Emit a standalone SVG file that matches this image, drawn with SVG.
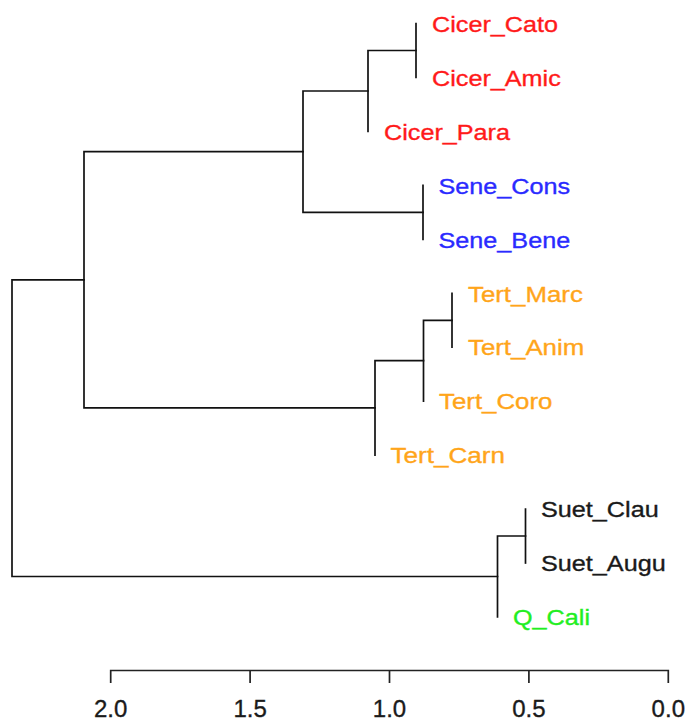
<svg xmlns="http://www.w3.org/2000/svg" width="689" height="722" viewBox="0 0 689 722">
<style>
  .bg { fill: #ffffff; }
  .br { fill: none; stroke: #111111; stroke-width: 1.7; stroke-linecap: square; }
  .ax { fill: none; stroke: #222222; stroke-width: 1.7; }
  text { font-family: "Liberation Sans", Arial, sans-serif; font-size: 22.5px; stroke-width: 0.35px; }
  .red { fill: #ff1a1a; stroke: #ff1a1a; }
  .blue { fill: #2a2aff; stroke: #2a2aff; }
  .orange { fill: #ffa51a; stroke: #ffa51a; }
  .black { fill: #1a1a1a; stroke: #1a1a1a; }
  .green { fill: #22ee22; stroke: #22ee22; }
  .tick { fill: #1a1a1a; stroke: #1a1a1a; text-anchor: middle; font-size: 24px; }
</style>
<rect class="bg" x="0" y="0" width="689" height="722"/>
<g id="connectors">
  <path class="br" d="M416,23.5 V77.5"/>
  <path class="br" d="M416,50.5 H368 M368,50.5 V131.4"/>
  <path class="br" d="M423,185.4 V239.3"/>
  <path class="br" d="M368,91 H303 M423,212.4 H303 M303,91 V212.4"/>
  <path class="br" d="M452,293.3 V347.2"/>
  <path class="br" d="M452,320.3 H423.5 M423.5,320.3 V401.2"/>
  <path class="br" d="M423.5,360.7 H375 M375,360.7 V455.1"/>
  <path class="br" d="M303,151.7 H84 M375,407.9 H84 M84,151.7 V407.9"/>
  <path class="br" d="M525.5,509.1 V563"/>
  <path class="br" d="M525.5,536 H497.5 M497.5,536 V617"/>
  <path class="br" d="M84,279.8 H12 M497.5,576.5 H12 M12,279.8 V576.5"/>
</g>
<g id="leaf-Cicer_Cato"><text class="red" x="432" y="31.7" textLength="126" lengthAdjust="spacingAndGlyphs">Cicer_Cato</text></g>
<g id="leaf-Cicer_Amic"><text class="red" x="432" y="85.7" textLength="128.8" lengthAdjust="spacingAndGlyphs">Cicer_Amic</text></g>
<g id="leaf-Cicer_Para"><text class="red" x="384" y="139.6" textLength="126" lengthAdjust="spacingAndGlyphs">Cicer_Para</text></g>
<g id="leaf-Sene_Cons"><text class="blue" x="438.5" y="193.6" textLength="131.7" lengthAdjust="spacingAndGlyphs">Sene_Cons</text></g>
<g id="leaf-Sene_Bene"><text class="blue" x="438.5" y="247.5" textLength="131.7" lengthAdjust="spacingAndGlyphs">Sene_Bene</text></g>
<g id="leaf-Tert_Marc"><text class="orange" x="468" y="301.5" textLength="114.8" lengthAdjust="spacingAndGlyphs">Tert_Marc</text></g>
<g id="leaf-Tert_Anim"><text class="orange" x="468" y="355.4" textLength="116.2" lengthAdjust="spacingAndGlyphs">Tert_Anim</text></g>
<g id="leaf-Tert_Coro"><text class="orange" x="439" y="409.4" textLength="113.4" lengthAdjust="spacingAndGlyphs">Tert_Coro</text></g>
<g id="leaf-Tert_Carn"><text class="orange" x="390.5" y="463.3" textLength="114.5" lengthAdjust="spacingAndGlyphs">Tert_Carn</text></g>
<g id="leaf-Suet_Clau"><text class="black" x="541" y="517.3" textLength="117.7" lengthAdjust="spacingAndGlyphs">Suet_Clau</text></g>
<g id="leaf-Suet_Augu"><text class="black" x="541" y="571.2" textLength="124.7" lengthAdjust="spacingAndGlyphs">Suet_Augu</text></g>
<g id="leaf-Q_Cali"><text class="green" x="513" y="625.2" textLength="77" lengthAdjust="spacingAndGlyphs">Q_Cali</text></g>
<g id="axis">
  <path class="ax" d="M110.7,683 V670.5 H668.3 V683 M250.1,670.5 V683 M389.5,670.5 V683 M528.9,670.5 V683"/>
  <text class="tick" x="110.7" y="716.5">2.0</text>
  <text class="tick" x="250.1" y="716.5">1.5</text>
  <text class="tick" x="389.5" y="716.5">1.0</text>
  <text class="tick" x="528.9" y="716.5">0.5</text>
  <text class="tick" x="668.3" y="716.5">0.0</text>
</g>
</svg>
